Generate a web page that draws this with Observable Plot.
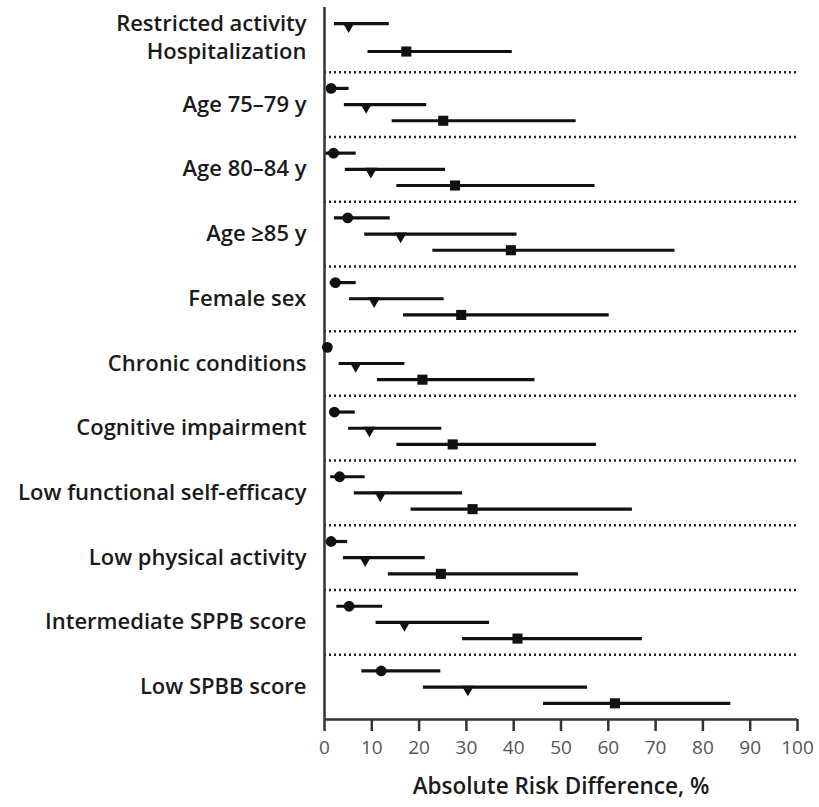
<!DOCTYPE html>
<html>
<head>
<meta charset="utf-8">
<script src="https://cdn.jsdelivr.net/npm/d3@7"></script>
<script src="https://cdn.jsdelivr.net/npm/@observablehq/plot@0.6"></script>
<style>
  html, body { margin: 0; padding: 0; background: #fff; }
</style>
</head>
<body>
<div id="chart"></div>
<script>
// ---- Data ----
const groups = ["", "Age 75–79 y", "Age 80–84 y", "Age ≥85 y", "Female sex", "Chronic conditions",
  "Cognitive impairment", "Low functional self-efficacy", "Low physical activity",
  "Intermediate SPPB score", "Low SPBB score"];
const outcomes = ["Circle outcome", "Restricted activity", "Hospitalization"];

const circleEst = [null, 1.4, 1.9, 4.9, 2.3, 0.6, 2.1, 3.2, 1.4, 5.2, 12.0];
const circleLo  = [null, 0.5, 0.3, 2.1, 1.2, 0.0, 1.1, 1.3, 0.4, 2.6, 7.9];
const circleHi  = [null, 5.2, 6.7, 13.9, 6.7, 1.5, 6.5, 8.6, 4.9, 12.3, 24.6];

const restrictedEst = [5.1, 8.8, 9.8, 16.1, 10.5, 6.6, 9.5, 11.8, 8.6, 16.9, 30.3];
const restrictedLo  = [2.1, 4.2, 4.4, 8.5, 5.3, 3.1, 5.1, 6.3, 4.0, 10.9, 20.9];
const restrictedHi  = [13.7, 21.6, 25.6, 40.7, 25.3, 17.0, 24.8, 29.2, 21.3, 34.9, 55.6];

const hospEst = [17.3, 25.1, 27.6, 39.4, 28.9, 20.7, 27.1, 31.3, 24.6, 40.8, 61.4];
const hospLo  = [9.2, 14.3, 15.3, 22.9, 16.7, 11.2, 15.3, 18.3, 13.5, 29.2, 46.3];
const hospHi  = [39.7, 53.2, 57.2, 74.1, 60.2, 44.5, 57.5, 65.1, 53.7, 67.2, 85.9];

const xTicks = [0, 10, 20, 30, 40, 50, 60, 70, 80, 90, 100];
const xLabel = "Absolute Risk Difference, %";

// ---- Layout helpers (row offsets within a group) ----
const offsets = {circle: -0.25, triangle: 0, square: 0.25};
const legendOffsets = {triangle: -0.25, square: 0.18};

const seriesDefs = [
  {key: "circle", name: outcomes[0], est: circleEst, lo: circleLo, hi: circleHi},
  {key: "triangle", name: outcomes[1], est: restrictedEst, lo: restrictedLo, hi: restrictedHi},
  {key: "square", name: outcomes[2], est: hospEst, lo: hospLo, hi: hospHi}
];

const rows = [];
groups.forEach((g, i) => {
  seriesDefs.forEach(s => {
    if (s.est[i] == null) return;
    const off = i === 0 ? legendOffsets[s.key] : offsets[s.key];
    rows.push({group: i, series: s.key, name: s.name, est: s.est[i], lo: s.lo[i], hi: s.hi[i], y: i + off});
  });
});

const labels = [];
groups.forEach((g, i) => {
  if (i === 0) {
    labels.push({y: i + legendOffsets.triangle, text: outcomes[1]});
    labels.push({y: i + legendOffsets.square, text: outcomes[2]});
  } else {
    labels.push({y: i, text: g});
  }
});

const seps = d3.range(groups.length - 1).map(k => k + 0.5);

const triangleDown = {
  draw(context, size) {
    const s = Math.sqrt(4 * size / Math.sqrt(3));
    const h = s * Math.sqrt(3) / 2;
    context.moveTo(-s / 2, -1.5);
    context.lineTo(s / 2, -1.5);
    context.lineTo(0, h - 1.5);
    context.closePath();
  }
};

const chart = Plot.plot({
  width: 819,
  height: 807,
  marginLeft: 324,
  marginRight: 22,
  marginTop: 7,
  marginBottom: 88,
  x: {domain: [0, 100]},
  y: {domain: [-0.5, groups.length - 0.5], reverse: true, axis: null},
  style: {fontFamily: "'Open Sans', sans-serif", background: "#fff"},
  marks: [
    Plot.ruleY(seps, {y: d => d, x1: 0, x2: 100, stroke: "#222", strokeWidth: 2.5, strokeDasharray: "2,3"}),
    Plot.ruleX([0], {stroke: "#333", strokeWidth: 2.5}),
    Plot.ruleY([groups.length - 0.5], {stroke: "#333", strokeWidth: 2.5}),
    Plot.axisX({ticks: xTicks, tickSize: 12, tickPadding: 9, stroke: "#333", strokeWidth: 2.5,
      fill: "#555", fontSize: 19, label: null}),
    Plot.ruleY(rows, {y: "y", x1: "lo", x2: "hi", stroke: "#111", strokeWidth: 3.2}),
    Plot.dot(rows.filter(d => d.series === "circle"), {x: "est", y: "y", r: 5.4, symbol: "circle", fill: "#111"}),
    Plot.dot(rows.filter(d => d.series === "triangle"), {x: "est", y: "y", r: 4.6, symbol: triangleDown, fill: "#111"}),
    Plot.dot(rows.filter(d => d.series === "square"), {x: "est", y: "y", r: 5.7, symbol: "square", fill: "#111"}),
    Plot.text(labels, {y: "y", text: "text", frameAnchor: "left", textAnchor: "end", dx: -18,
      fontSize: 22, fontWeight: 600, fill: "#1a1a1a"}),
    Plot.text([xLabel], {frameAnchor: "bottom", dy: 74, fontSize: 22.5, fontWeight: 600, fill: "#1a1a1a"})
  ]
});

document.getElementById("chart").appendChild(chart);
</script>
</body>
</html>
